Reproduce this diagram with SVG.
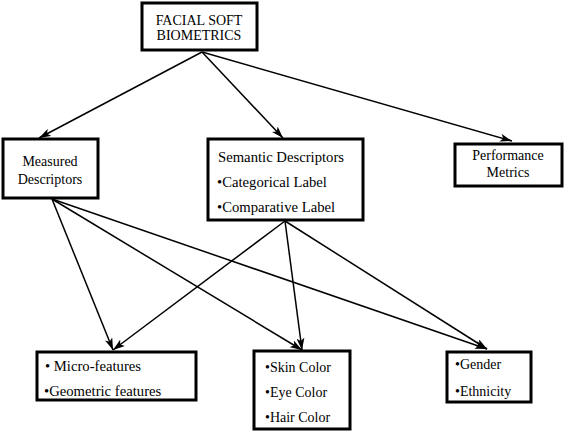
<svg xmlns="http://www.w3.org/2000/svg" width="570" height="433" viewBox="0 0 570 433">
<defs>
<style>
.box{fill:#fff;stroke:#000;stroke-width:3}
.t{font-family:"Liberation Serif",serif;font-size:14px;fill:#000}
.l{font-size:14.7px}
.c{text-anchor:middle}
.e{stroke:#000;stroke-width:1.5;fill:none;marker-end:url(#ah)}
</style>
<marker id="ah" viewBox="0 0 12 8" refX="12" refY="4" markerWidth="12" markerHeight="8" markerUnits="userSpaceOnUse" orient="auto">
<path d="M0,0 L12,4 L0,8 L3,4 Z" fill="#000"/>
</marker>
</defs>
<rect width="570" height="433" fill="#fff"/>
<g id="connectors">
<line class="e" x1="202" y1="52" x2="39" y2="138"/>
<line class="e" x1="202" y1="52" x2="283" y2="138"/>
<line class="e" x1="202" y1="52" x2="512" y2="141"/>
<line class="e" x1="52" y1="199" x2="113" y2="350"/>
<line class="e" x1="52" y1="199" x2="302" y2="350"/>
<line class="e" x1="52" y1="199" x2="487" y2="349"/>
<line class="e" x1="285" y1="221" x2="113" y2="350"/>
<line class="e" x1="285" y1="221" x2="302" y2="350"/>
<line class="e" x1="285" y1="221" x2="487" y2="349"/>
</g>
<g id="facial">
<rect class="box" x="142" y="3" width="115" height="47"/>
<text class="t c" x="199" y="25" font-size="11.6">FACIAL SOFT</text>
<text class="t c" x="199" y="40" font-size="11.6">BIOMETRICS</text>
</g>
<g id="measured">
<rect class="box" x="3" y="139" width="95" height="59"/>
<text class="t c" x="50" y="166">Measured</text>
<text class="t c" x="50" y="184">Descriptors</text>
</g>
<g id="semantic">
<rect class="box" x="208" y="139" width="155" height="81"/>
<text class="t l" x="218" y="162">Semantic Descriptors</text>
<text class="t l" x="217" y="187">•Categorical Label</text>
<text class="t l" x="217" y="212">•Comparative Label</text>
</g>
<g id="performance">
<rect class="box" x="455" y="144" width="107" height="42"/>
<text class="t c" x="508" y="160">Performance</text>
<text class="t c" x="508" y="177">Metrics</text>
</g>
<g id="micro">
<rect class="box" x="37" y="352" width="159" height="48"/>
<text class="t l" x="45" y="371">• Micro-features</text>
<text class="t l" x="44" y="396">•Geometric features</text>
</g>
<g id="color">
<rect class="box" x="254" y="351" width="96" height="78"/>
<text class="t" x="265" y="372">•Skin Color</text>
<text class="t" x="265" y="397">•Eye Color</text>
<text class="t" x="265" y="422">•Hair Color</text>
</g>
<g id="gender">
<rect class="box" x="447" y="352" width="84" height="50"/>
<text class="t" x="455" y="369">•Gender</text>
<text class="t" x="455" y="396">•Ethnicity</text>
</g>
</svg>
